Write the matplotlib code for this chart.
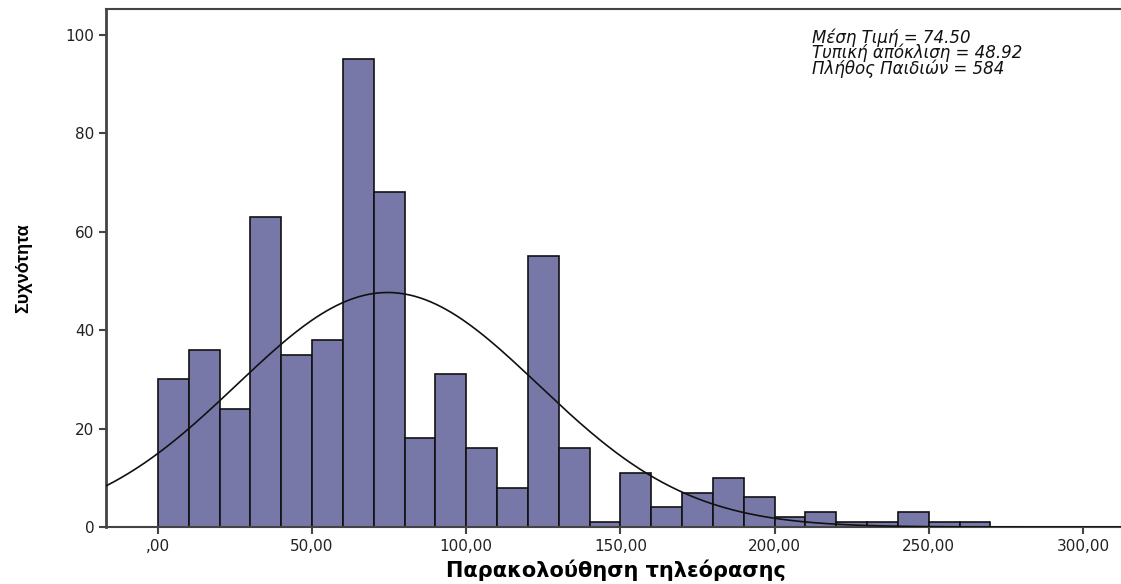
import numpy as np
import matplotlib
matplotlib.use("Agg")
import matplotlib.pyplot as plt

# bin edges (width 10) and counts
bin_starts = list(range(0, 270, 10))
counts = [30, 36, 24, 63, 35, 38, 95, 68, 18, 31, 16, 8, 55, 16, 1,
          11, 4, 7, 10, 6, 2, 3, 1, 1, 3, 1, 1]
mean_val = 74.50
std_val = 48.92
n_total = 584
bin_width = 10

x_ticks = [0, 50, 100, 150, 200, 250, 300]
x_tick_labels = [",00", "50,00", "100,00", "150,00", "200,00", "250,00", "300,00"]
y_ticks = [0, 20, 40, 60, 80, 100]

plt.rcParams['font.family'] = ['DejaVu Sans']

fig = plt.figure(figsize=(11.21, 5.84), dpi=100)
ax = fig.add_axes([0.0946, 0.0976, 0.91, 0.887])

ax.bar(bin_starts, counts, width=bin_width, align='edge',
       color='#7878a8', edgecolor='#111111', linewidth=1.2, zorder=2)

# normal curve scaled to counts
xs = np.linspace(-17, 320, 400)
ys = n_total * bin_width / (std_val * np.sqrt(2 * np.pi)) * np.exp(-0.5 * ((xs - mean_val) / std_val) ** 2)
ax.plot(xs, ys, color='#111111', linewidth=1.2, zorder=3)

ax.set_xlim(-16.8, 314)
ax.set_ylim(0, 105.2)
ax.set_xticks(x_ticks)
ax.set_xticklabels(x_tick_labels)
ax.set_yticks(y_ticks)

for side in ['left', 'bottom', 'top']:
    ax.spines[side].set_color('#444444')
ax.spines['left'].set_linewidth(2)
ax.spines['bottom'].set_linewidth(1.5)
ax.spines['top'].set_linewidth(1.5)
ax.spines['right'].set_visible(False)
ax.tick_params(axis='both', colors='#444444', labelcolor='#222222',
               labelsize=11, length=5, width=1.5)

ax.set_xlabel("Παρακολούθηση τηλεόρασης", fontsize=15, fontweight='bold')
ax.xaxis.set_label_coords(0.5, -0.063)
ax.xaxis.label.set_va('top')
ax.set_ylabel("Συχνότητα", fontsize=13, fontweight='bold',
              family=['Liberation Sans', 'DejaVu Sans'])
ax.yaxis.set_label_coords(-0.072, 0.5)

ax.text(0.692, 0.962, "Μέση Τιμή = 74.50\nΤυπική απόκλιση = 48.92\nΠλήθος Παιδιών = 584",
        transform=ax.transAxes, ha='left', va='top', fontsize=12,
        fontstyle='italic', linespacing=0.78, color='#111111')

fig.savefig("out.png", dpi=100)
